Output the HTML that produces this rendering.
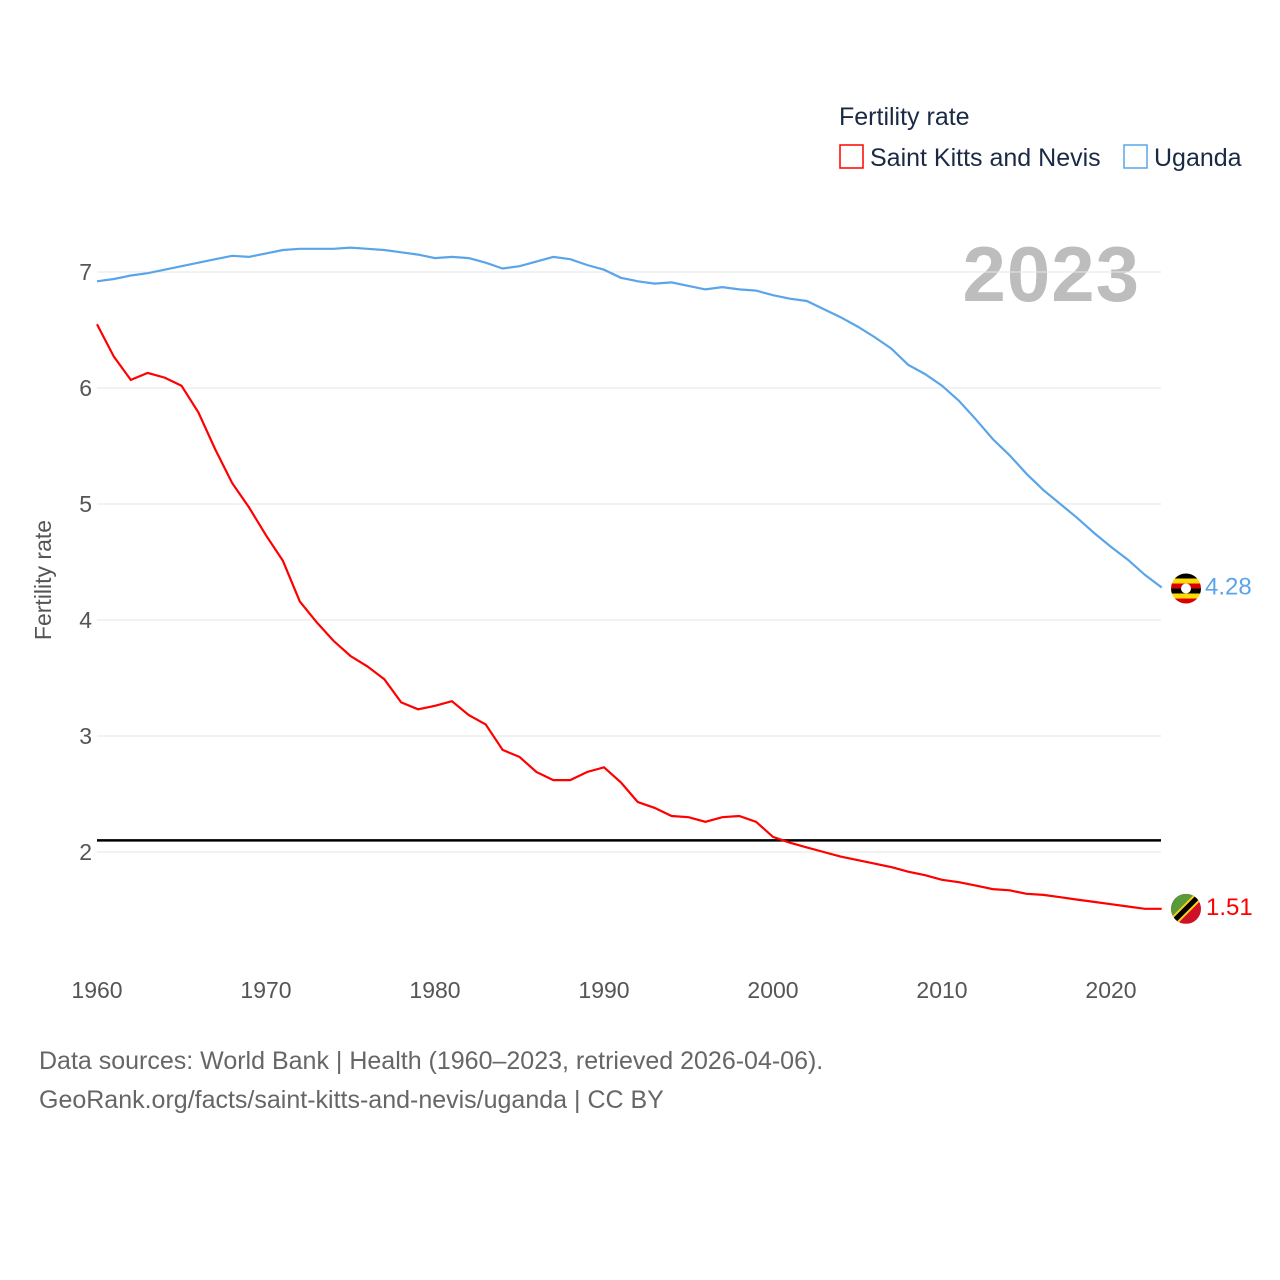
<!DOCTYPE html>
<html><head><meta charset="utf-8">
<style>
body{margin:0;background:#fff;}
svg{display:block;font-family:"Liberation Sans",sans-serif;}
</style></head>
<body>
<svg id="chart" width="1280" height="1280" viewBox="0 0 1280 1280">
<g>
<text x="839" y="125" font-size="25" fill="#1a2a44">Fertility rate</text>
<rect x="840" y="145" width="23" height="23" fill="none" stroke="#f00" stroke-width="1.5"/>
<text x="870" y="166" font-size="25" fill="#1a2a44">Saint Kitts and Nevis</text>
<rect x="1124" y="145" width="23" height="23" fill="none" stroke="#5aa5ea" stroke-width="1.5"/>
<text x="1154" y="166" font-size="25" fill="#1a2a44">Uganda</text>
</g>
<text x="1140" y="301" font-size="78" font-weight="bold" fill="#bdbdbd" text-anchor="end" letter-spacing="1">2023</text>
<text transform="translate(51,580) rotate(-90)" font-size="23" fill="#555" text-anchor="middle">Fertility rate</text>
<g id="grid"></g>
<g id="series"></g>
<g>
<text x="39" y="1069" font-size="25" fill="#666">Data sources: World Bank | Health (1960–2023, retrieved 2026-04-06).</text>
<text x="39" y="1108" font-size="25" fill="#666">GeoRank.org/facts/saint-kitts-and-nevis/uganda | CC BY</text>
</g>
</svg>
<script>
const years=[];for(let y=1960;y<=2023;y++)years.push(y);
const ugandaValues=[6.92,6.94,6.97,6.99,7.02,7.05,7.08,7.11,7.14,7.13,7.16,7.19,7.20,7.20,7.20,7.21,7.20,7.19,7.17,7.15,7.12,7.13,7.12,7.08,7.03,7.05,7.09,7.13,7.11,7.06,7.02,6.95,6.92,6.90,6.91,6.88,6.85,6.87,6.85,6.84,6.80,6.77,6.75,6.68,6.61,6.53,6.44,6.34,6.20,6.12,6.02,5.89,5.73,5.56,5.42,5.26,5.12,5.00,4.88,4.75,4.63,4.52,4.39,4.28];
const sknValues=[6.55,6.27,6.07,6.13,6.09,6.02,5.79,5.47,5.18,4.97,4.73,4.51,4.16,3.98,3.82,3.69,3.60,3.49,3.29,3.23,3.26,3.30,3.18,3.10,2.88,2.82,2.69,2.62,2.62,2.69,2.73,2.60,2.43,2.38,2.31,2.30,2.26,2.30,2.31,2.26,2.13,2.08,2.04,2.00,1.96,1.93,1.90,1.87,1.83,1.80,1.76,1.74,1.71,1.68,1.67,1.64,1.63,1.61,1.59,1.57,1.55,1.53,1.51,1.51];
const yTicks=[2,3,4,5,6,7];
const xTicks=[1960,1970,1980,1990,2000,2010,2020];
const replacementLevel=2.1;
const NS="http://www.w3.org/2000/svg";
const X0=97,X1=1161.7;
const xs=y=>X0+(y-1960)*(X1-X0)/63;
const ys=v=>852-(v-2)*116;
const grid=document.getElementById('grid'),ser=document.getElementById('series');
function mk(tag,attrs,parent){const e=document.createElementNS(NS,tag);for(const k in attrs)e.setAttribute(k,attrs[k]);parent.appendChild(e);return e;}
yTicks.forEach(v=>{
 const l=mk('line',{x1:X0,x2:1161,y1:ys(v),y2:ys(v),stroke:'#e6e6e6','stroke-width':1},grid);
 
 
 const t=mk('text',{x:92,y:ys(v)+8,'font-size':23,fill:'#555','text-anchor':'end'},grid);
 t.textContent=v;
 
 
});
xTicks.forEach(v=>{
 const t=mk('text',{x:xs(v),y:998,'font-size':23,fill:'#555','text-anchor':'middle'},grid);
 t.textContent=v;
 
 
});
const ref=mk('line',{x1:X0,x2:1161,y1:ys(replacementLevel),y2:ys(replacementLevel),stroke:'#000','stroke-width':2.5},grid);


function line(vals,color,name){
 const d=vals.map((v,i)=>(i?'L':'M')+xs(years[i]).toFixed(1)+','+ys(v).toFixed(1)).join('');
 const p=mk('path',{d:d,fill:'none',stroke:color,'stroke-width':2.2},ser);
 
 
}
line(ugandaValues,'#5aa5ea','uganda-line');
line(sknValues,'#f00','skn-line');
const uy=ys(ugandaValues[ugandaValues.length-1]), sy=ys(sknValues[sknValues.length-1]);
const ug=mk('g',{},ser);


const cu=mk('clipPath',{id:'cu'},ug);mk('circle',{cx:1186,cy:uy+1,r:15},cu);
const ucol=['#000','#fcdc04','#d90000','#000','#fcdc04','#d90000'];
ucol.forEach((c,i)=>mk('rect',{x:1171,y:uy-14+i*5,width:30,height:5,fill:c,'clip-path':'url(#cu)'},ug));
mk('circle',{cx:1186,cy:uy+1,r:5,fill:'#fff'},ug);
const sk=mk('g',{},ser);


const cs=mk('clipPath',{id:'cs'},sk);mk('circle',{cx:1186,cy:sy,r:15},cs);
mk('rect',{x:1171,y:sy-15,width:30,height:30,fill:'#ce1126','clip-path':'url(#cs)'},sk);
mk('polygon',{points:`1171,${sy+15} 1171,${sy-15} 1201,${sy-15}`,fill:'#5b9a3a','clip-path':'url(#cs)'},sk);
mk('line',{x1:1171,y1:sy+15,x2:1201,y2:sy-15,stroke:'#fcd116','stroke-width':9,'clip-path':'url(#cs)'},sk);
mk('line',{x1:1171,y1:sy+15,x2:1201,y2:sy-15,stroke:'#000','stroke-width':5,'clip-path':'url(#cs)'},sk);
const ul=mk('text',{x:1205,y:uy+7,'font-size':24,fill:'#5aa5ea'},ser);
ul.textContent=ugandaValues[ugandaValues.length-1].toFixed(2);


const sl=mk('text',{x:1206,y:sy+6,'font-size':24,fill:'#f00'},ser);
sl.textContent=sknValues[sknValues.length-1].toFixed(2);


</script>
</body></html>
